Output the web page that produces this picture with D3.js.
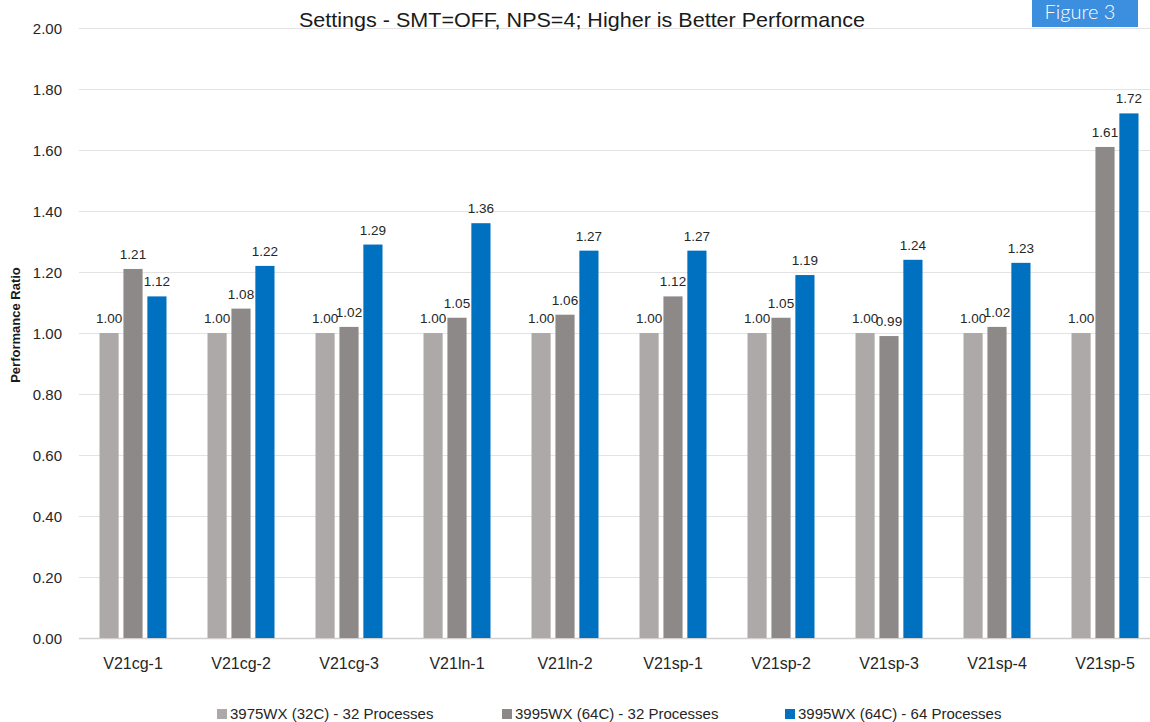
<!DOCTYPE html>
<html><head><meta charset="utf-8">
<script src="https://cdn.jsdelivr.net/npm/d3@7"></script>
<style>body{margin:0;background:#fff}svg{display:block}</style>
</head><body>
<script>
const categories = ["V21cg-1","V21cg-2","V21cg-3","V21ln-1","V21ln-2","V21sp-1","V21sp-2","V21sp-3","V21sp-4","V21sp-5"];
const seriesNames = ["3975WX (32C) - 32 Processes","3995WX (64C) - 32 Processes","3995WX (64C) - 64 Processes"];
const s3975_32 = [1.00,1.00,1.00,1.00,1.00,1.00,1.00,1.00,1.00,1.00];
const s3995_32 = [1.21,1.08,1.02,1.05,1.06,1.12,1.05,0.99,1.02,1.61];
const s3995_64 = [1.12,1.22,1.29,1.36,1.27,1.27,1.19,1.24,1.23,1.72];
const yTicks = [0,0.2,0.4,0.6,0.8,1.0,1.2,1.4,1.6,1.8,2.0];
const colors = ["#ADA9A8","#8D8988","#0070C0"];
const series = [s3975_32, s3995_32, s3995_64];

const W = 1150, H = 722;
const svg = d3.select("body").append("svg").attr("width", W).attr("height", H);
const font = "'Liberation Sans', Arial, sans-serif";

const x = d3.scaleBand().domain(categories).range([79, 1159]).paddingInner(0).paddingOuter(0);
const y = d3.scaleLinear().domain([0, 2]).range([638, 28]);
const xs = d3.scaleBand().domain([0,1,2]).range([0, 67]).paddingInner(0.2);

// gridlines
svg.append("g").selectAll("line").data(yTicks).join("line")
  .attr("x1", 79).attr("x2", W).attr("y1", d => Math.round(y(d)) + 0.5).attr("y2", d => Math.round(y(d)) + 0.5)
  .attr("stroke", d => d === 0 ? "#D0D0D0" : "#E3E3E3").attr("stroke-width", d => d === 0 ? 1.5 : 1);

// y axis labels
const yAxis = d3.axisLeft(y).tickValues(yTicks).tickFormat(d3.format(".2f")).tickSize(0).tickPadding(0);
const ya = svg.append("g").attr("transform", "translate(62,0)").call(yAxis);
ya.select(".domain").remove();
ya.selectAll("text").attr("font-family", font).attr("font-size", 15).attr("fill", "#262626").attr("dy", "0.35em");

// y title
svg.append("text").attr("transform", "translate(20,325) rotate(-90)").attr("text-anchor", "middle")
  .attr("font-family", font).attr("font-weight", "bold").attr("font-size", 13).attr("fill", "#1a1a1a")
  .text("Performance Ratio");

// bars
const groups = svg.append("g").selectAll("g").data(categories).join("g")
  .attr("transform", d => `translate(${x(d) + (x.bandwidth() - 67) / 2},0)`);
groups.each(function(cat, ci) {
  const g = d3.select(this);
  series.forEach((s, si) => {
    g.append("rect").attr("x", xs(si)).attr("width", xs.bandwidth())
      .attr("y", y(s[ci])).attr("height", y(0) - y(s[ci])).attr("fill", colors[si]);
    g.append("text").attr("x", xs(si) + xs.bandwidth() / 2).attr("y", y(s[ci]) - 10)
      .attr("text-anchor", "middle").attr("font-family", font).attr("font-size", 13.5).attr("fill", "#262626")
      .text(d3.format(".2f")(s[ci]));
  });
});

// x axis labels
const xAxis = d3.axisBottom(x).tickSize(0).tickPadding(0);
const xa = svg.append("g").attr("transform", "translate(0,669)").call(xAxis);
xa.select(".domain").remove();
xa.selectAll("text").attr("font-family", font).attr("font-size", 16).attr("fill", "#262626").attr("dy", 0);

// subtitle
svg.append("text").attr("x", 582).attr("y", 27).attr("text-anchor", "middle")
  .attr("font-family", font).attr("font-size", 21).attr("fill", "#1a1a1a")
  .attr("textLength", 566).attr("lengthAdjust", "spacingAndGlyphs")
  .text("Settings - SMT=OFF, NPS=4; Higher is Better Performance");

// legend
const legX = [217, 502, 785];
const leg = svg.append("g").selectAll("g").data(seriesNames).join("g")
  .attr("transform", (d, i) => `translate(${legX[i]},0)`);
leg.append("rect").attr("x", 0).attr("y", 709).attr("width", 10).attr("height", 10).attr("fill", (d, i) => colors[i]);
leg.append("text").attr("x", 13).attr("y", 719).attr("font-family", font).attr("font-size", 15).attr("fill", "#262626").text(d => d);

// figure badge
svg.append("rect").attr("x", 1032).attr("y", 0).attr("width", 106).attr("height", 27).attr("fill", "#3C8EDE");
svg.append("text").attr("x", 1080).attr("y", 19).attr("text-anchor", "middle")
  .attr("font-family", "Lato, 'Open Sans', sans-serif").attr("font-weight", 300).attr("font-size", 20).attr("fill", "#fff")
  .text("Figure 3");
</script>
</body></html>
